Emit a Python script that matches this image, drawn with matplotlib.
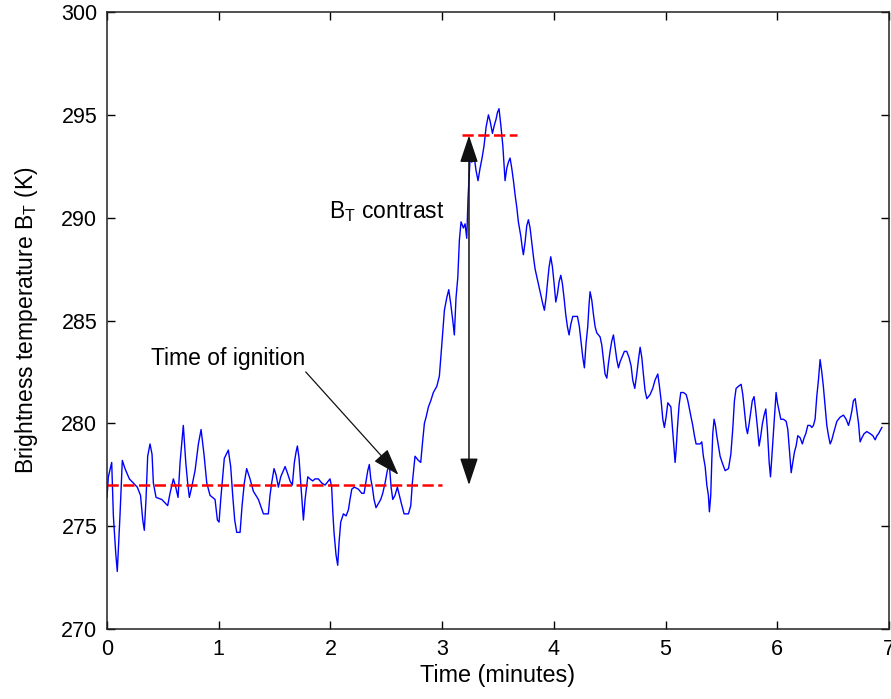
import matplotlib
matplotlib.use('Agg')
import matplotlib.pyplot as plt

plt.rcParams['font.family'] = ['Liberation Sans', 'DejaVu Sans']
plt.rcParams['mathtext.fontset'] = 'custom'
plt.rcParams['mathtext.rm'] = 'Liberation Sans'
plt.rcParams['mathtext.it'] = 'Liberation Sans:italic'

# time (minutes) and brightness temperature (K)
time_min = [
    0.000, 0.012, 0.042, 0.057, 0.078, 0.092, 0.116, 0.137, 0.161, 0.200,
    0.235, 0.271, 0.300, 0.320, 0.334, 0.349, 0.364, 0.385, 0.403, 0.415,
    0.439, 0.490, 0.543, 0.564, 0.594, 0.615, 0.636, 0.654, 0.683, 0.705,
    0.722, 0.737, 0.758, 0.788, 0.818, 0.842, 0.868, 0.893, 0.922, 0.967,
    0.988, 1.003, 1.018, 1.036, 1.050, 1.086, 1.107, 1.125, 1.143, 1.161,
    1.191, 1.209, 1.229, 1.250, 1.280, 1.310, 1.355,
    1.400, 1.444, 1.459, 1.474, 1.495, 1.513, 1.534, 1.555, 1.579, 1.594,
    1.614, 1.638, 1.659, 1.677, 1.692, 1.704, 1.719, 1.734, 1.749, 1.758,
    1.773, 1.797, 1.817, 1.841, 1.862, 1.892, 1.922, 1.952, 1.981, 1.996,
    2.011, 2.021, 2.032, 2.050, 2.065, 2.077, 2.092, 2.116, 2.140, 2.161,
    2.175, 2.191, 2.214, 2.250, 2.280, 2.301, 2.319, 2.334, 2.348, 2.361,
    2.375, 2.390, 2.408, 2.429, 2.450, 2.468, 2.489, 2.509, 2.527, 2.543,
    2.558, 2.578, 2.599, 2.617, 2.635, 2.659, 2.698, 2.719, 2.733, 2.748,
    2.757, 2.787, 2.808, 2.823, 2.841, 2.856, 2.877, 2.898, 2.921, 2.952,
    2.975, 2.988, 3.002, 3.020, 3.041, 3.059, 3.077, 3.095, 3.109, 3.124,
    3.140, 3.154, 3.169, 3.190, 3.205, 3.220, 3.232, 3.250, 3.265, 3.286,
    3.303, 3.321, 3.339, 3.357, 3.375, 3.393, 3.414, 3.429, 3.450, 3.467,
    3.483, 3.494, 3.509, 3.525, 3.543, 3.563, 3.578, 3.593, 3.608, 3.623,
    3.638,
    3.653, 3.668, 3.682, 3.704, 3.718, 3.727, 3.742, 3.757, 3.772, 3.787,
    3.802, 3.817, 3.832, 3.852, 3.868, 3.883, 3.901, 3.915, 3.930, 3.942,
    3.957, 3.972, 3.987, 4.002, 4.017, 4.032, 4.047, 4.062, 4.076, 4.091,
    4.106, 4.121, 4.136, 4.151, 4.169, 4.190, 4.211, 4.228, 4.244, 4.259,
    4.273, 4.288, 4.303, 4.315, 4.324, 4.339, 4.354, 4.369, 4.384, 4.414,
    4.429, 4.443, 4.458, 4.474, 4.488, 4.503, 4.518, 4.533, 4.548, 4.563,
    4.578, 4.593, 4.608, 4.631, 4.652, 4.673, 4.691, 4.706, 4.724, 4.742,
    4.757, 4.772, 4.787, 4.801, 4.816, 4.832, 4.861, 4.885, 4.905, 4.930,
    4.945, 4.960, 4.975, 4.989, 5.004, 5.020,
    5.047, 5.061, 5.076, 5.085, 5.094, 5.106, 5.121, 5.136, 5.160, 5.184,
    5.199, 5.213, 5.228, 5.243, 5.258, 5.273, 5.294, 5.309, 5.324, 5.338,
    5.354, 5.369, 5.383, 5.392, 5.404, 5.413, 5.422, 5.434, 5.446, 5.458,
    5.473, 5.488, 5.506, 5.533, 5.563, 5.584, 5.602, 5.616, 5.631, 5.652,
    5.676, 5.691, 5.706, 5.721, 5.733, 5.748, 5.763, 5.776, 5.792, 5.807,
    5.822, 5.837, 5.852, 5.867, 5.882, 5.897, 5.911, 5.927, 5.939, 5.951,
    5.966, 5.980, 5.989, 6.001, 6.016, 6.031, 6.055, 6.079, 6.094, 6.108,
    6.124, 6.139, 6.153, 6.168, 6.183, 6.204, 6.224, 6.240, 6.255, 6.273,
    6.294, 6.309, 6.323, 6.338, 6.353, 6.368, 6.383, 6.398, 6.412, 6.428,
    6.443, 6.458, 6.473, 6.488, 6.502, 6.518, 6.533, 6.562, 6.592, 6.616,
    6.637, 6.652, 6.667, 6.681, 6.697, 6.712, 6.727, 6.741, 6.757, 6.777,
    6.801, 6.831, 6.855, 6.876, 6.891, 6.906, 6.936,
]
bt_k = [
    276.4, 277.4, 278.1, 275.5, 273.7, 272.8, 275.5, 278.2, 277.8, 277.3,
    277.1, 276.9, 276.5, 275.3, 274.8, 276.3, 278.4, 279.0, 278.5, 277.1,
    276.4, 276.3, 276.0, 276.6, 277.3, 276.9, 276.4, 278.1, 279.9, 278.1,
    277.1, 276.4, 276.9, 277.7, 279.0, 279.7, 278.5, 277.1, 276.5, 276.3,
    275.3, 275.2, 276.3, 277.4, 278.3, 278.7, 277.9, 276.5, 275.3, 274.7,
    274.7, 276.0, 277.1, 277.8, 277.3, 276.7, 276.3,
    275.6, 275.6, 276.5, 277.1, 277.8, 277.5, 276.9, 277.4, 277.7, 277.9,
    277.6, 277.2, 277.0, 278.1, 278.6, 278.9, 278.3, 277.1, 276.0, 275.3,
    276.3, 277.4, 277.3, 277.2, 277.3, 277.3, 277.1, 277.0, 277.2, 277.3,
    276.9, 275.7, 274.7, 273.6, 273.1, 274.2, 275.2, 275.6, 275.5, 275.8,
    276.3, 276.8, 276.9, 276.8, 276.6, 276.6, 277.2, 277.7, 278.0, 277.3,
    276.9, 276.3, 275.9, 276.1, 276.3, 276.6, 277.1, 277.7, 278.0, 276.9,
    276.3, 276.5, 276.9, 276.5, 276.1, 275.6, 275.6, 276.0, 277.1, 277.9,
    278.4, 278.2, 278.1, 279.0, 280.0, 280.3, 280.8, 281.1, 281.5, 281.8,
    282.3, 283.2, 284.2, 285.5, 286.1, 286.5, 285.8, 285.0, 284.3, 286.1,
    287.1, 288.9, 289.8, 289.5, 289.7, 289.0, 291.0, 292.9, 292.7, 293.0,
    292.3, 291.8, 292.4, 292.9, 293.5, 294.4, 295.0, 294.7, 294.1, 294.5,
    294.8, 295.1, 295.3, 294.5, 293.5, 291.8, 292.4, 292.7, 292.9, 292.4,
    291.8,
    291.1, 290.5, 289.8, 289.1, 288.5, 288.2, 288.8, 289.6, 289.9, 289.5,
    288.8, 288.1, 287.5, 287.0, 286.6, 286.2, 285.8, 285.5, 286.1, 286.8,
    287.6, 288.1, 287.6, 286.8, 285.9, 286.3, 286.9, 287.2, 286.8, 286.1,
    285.3, 284.7, 284.3, 284.8, 285.2, 285.2, 285.2, 284.7, 283.9, 283.2,
    282.7, 283.9, 284.7, 285.8, 286.4, 286.0, 285.3, 284.7, 284.4, 284.2,
    283.8, 283.1, 282.4, 282.2, 282.9, 283.5, 284.0, 284.3, 283.7, 283.1,
    282.7, 283.0, 283.2, 283.5, 283.5, 283.2, 282.8, 282.1, 281.7, 282.4,
    283.1, 283.7, 283.2, 282.4, 281.6, 281.2, 281.4, 281.7, 282.1, 282.4,
    281.8, 281.1, 280.2, 279.8, 280.3, 281.0,
    280.8, 279.8, 278.7, 278.1, 278.7, 279.8, 280.9, 281.5, 281.5, 281.4,
    281.1, 280.7, 280.3, 279.9, 279.4, 279.0, 279.0, 279.0, 279.1, 278.4,
    277.9, 277.0, 276.5, 275.7, 276.5, 278.1, 279.5, 280.2, 279.9, 279.4,
    278.9, 278.4, 278.1, 277.7, 277.8, 278.5, 279.8, 281.1, 281.7, 281.8,
    281.9, 281.4, 280.6, 279.8, 279.5, 280.0, 280.6, 281.1, 281.3, 280.6,
    279.8, 278.9, 279.4, 280.0, 280.4, 280.7, 279.7, 278.1, 277.4, 278.4,
    279.7, 280.8, 281.5, 281.0, 280.6, 280.2, 280.2, 280.1, 279.7, 278.7,
    277.6, 278.1, 278.6, 278.9, 279.4, 279.3, 279.0, 279.3, 279.5, 279.9,
    279.9, 279.8, 279.9, 280.2, 281.3, 282.1, 283.1, 282.5, 281.8, 280.8,
    279.9, 279.4, 279.0, 279.2, 279.5, 279.8, 280.1, 280.3, 280.4, 280.2,
    279.9, 280.2, 280.6, 281.1, 281.2, 280.6, 280.0, 279.1, 279.3, 279.5,
    279.6, 279.5, 279.4, 279.2, 279.4, 279.5, 279.8,
]

# annotation values
base_level = 277.0
base_span = [0.0, 3.0]
peak_level = 294.0
peak_span = [3.18, 3.67]
arrow_t = 3.24
ign_tip = (2.608, 277.5)
ign_tail = (1.779, 282.5)

fig = plt.figure(figsize=(8.91, 6.99), dpi=100)
ax = fig.add_axes([0.1201, 0.1001, 0.8777, 0.8827])

ax.plot(time_min, bt_k, color='#0000ff', lw=1.0)
ax.plot(base_span, [base_level] * 2, color='#ff0000', lw=1.8, dashes=(4.5, 1.8))
ax.plot(peak_span, [peak_level] * 2, color='#ff0000', lw=1.8, dashes=(4.5, 1.8))

ax.annotate('', xy=(arrow_t, base_level), xytext=(arrow_t, peak_level),
            arrowprops=dict(arrowstyle='<|-|>,head_length=1.2,head_width=0.4',
                            mutation_scale=14, color='#111111', lw=1.1,
                            shrinkA=0, shrinkB=0))
ax.text(1.99, 289.97, r'B$_\mathrm{T}$ contrast', fontsize=16.5, va='baseline', ha='left')

ax.annotate('', xy=ign_tip, xytext=ign_tail,
            arrowprops=dict(arrowstyle='-|>,head_length=1.2,head_width=0.4',
                            mutation_scale=14, color='#111111', lw=0.9,
                            shrinkA=0, shrinkB=0))
ax.text(0.39, 282.84, 'Time of ignition', fontsize=16.5, va='baseline', ha='left')

ax.set_xlim(0, 7)
ax.set_ylim(270, 300)
ax.set_xticks(range(0, 8))
ax.set_yticks(range(270, 301, 5))
ax.tick_params(direction='in', top=True, right=True, length=6, width=1,
               labelsize=15.5, pad=7)
for s in ax.spines.values():
    s.set_linewidth(1.1)
    s.set_color('#222222')

ax.set_xlabel('Time (minutes)', fontsize=16.8, labelpad=3)
ax.set_ylabel(r'Brightness temperature B$_\mathrm{T}$ (K)', fontsize=16.5)
ax.yaxis.set_label_coords(-0.086, 0.5)

plt.savefig('out.png', dpi=100)
